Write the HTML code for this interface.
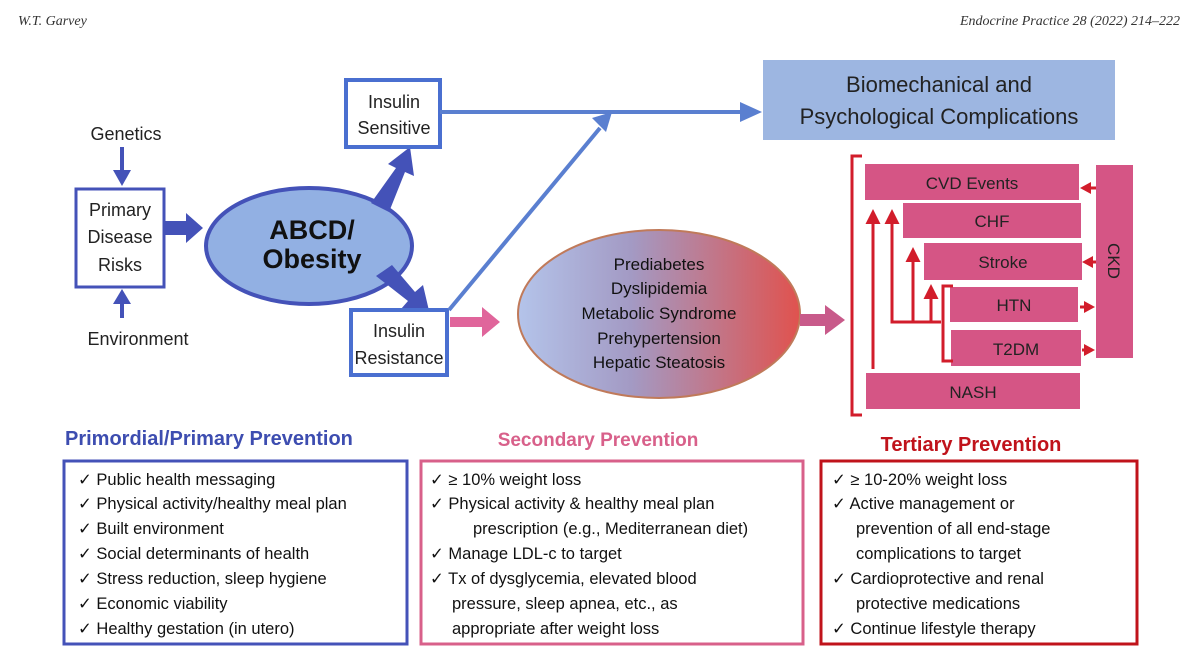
<!DOCTYPE html>
<html><head><meta charset="utf-8"><style>
html,body{margin:0;padding:0;background:#fff;}
svg{display:block;font-family:"Liberation Sans",sans-serif;}
</style></head><body>
<svg width="1200" height="656" viewBox="0 0 1200 656" xmlns="http://www.w3.org/2000/svg">
<defs>
<linearGradient id="g" x1="0" x2="1" y1="0" y2="0">
<stop offset="0" stop-color="#b4c4ea"/><stop offset="0.4" stop-color="#a39ac4"/><stop offset="1" stop-color="#e0524e"/>
</linearGradient>
<marker id="ar" markerWidth="5" markerHeight="5" refX="4" refY="2.5" orient="auto" markerUnits="strokeWidth"><path d="M0,0 L5,2.5 L0,5 z" fill="#d21d2b"/></marker>
</defs>
<text x="18" y="25" font-family="Liberation Serif" font-style="italic" font-size="14" fill="#333">W.T. Garvey</text>
<text x="1180" y="25" font-family="Liberation Serif" font-style="italic" font-size="14" fill="#333" text-anchor="end">Endocrine Practice 28 (2022) 214–222</text>

<text x="126" y="140" font-size="18" text-anchor="middle" fill="#222">Genetics</text>
<line x1="122" y1="147" x2="122" y2="172" stroke="#4452b8" stroke-width="4"/>
<path d="M113,170 L131,170 L122,186 z" fill="#4452b8"/>
<text x="138" y="345" font-size="18" text-anchor="middle" fill="#222">Environment</text>
<line x1="122" y1="318" x2="122" y2="302" stroke="#4452b8" stroke-width="4"/>
<path d="M113,304 L131,304 L122,289 z" fill="#4452b8"/>
<rect x="76" y="189" width="88" height="98" fill="#fff" stroke="#4452b8" stroke-width="3"/>
<text x="120" y="216" font-size="18" text-anchor="middle" fill="#222">Primary</text>
<text x="120" y="243" font-size="18" text-anchor="middle" fill="#222">Disease</text>
<text x="120" y="271" font-size="18" text-anchor="middle" fill="#222">Risks</text>
<path d="M165,221 L186,221 L186,213 L203,228 L186,243 L186,235 L165,235 z" fill="#4452b8"/>
<ellipse cx="309" cy="246" rx="103" ry="58" fill="#92b0e3" stroke="#4452b8" stroke-width="4"/>
<text x="312" y="239" font-size="27" font-weight="bold" text-anchor="middle" fill="#111">ABCD/</text>
<text x="312" y="268" font-size="27" font-weight="bold" text-anchor="middle" fill="#111">Obesity</text>
<path d="M371,203 L389,212 L405,172 L414,176 L410,147 L388,164 L396,168 z" fill="#4452b8"/>
<path d="M376,276 L392,265 L415,292 L423,285 L430,315 L401,309 L408,301 z" fill="#4452b8"/>
<rect x="346" y="80" width="94" height="67" fill="#fff" stroke="#4a6fd0" stroke-width="4"/>
<text x="394" y="108" font-size="18" text-anchor="middle" fill="#222">Insulin</text>
<text x="394" y="134" font-size="18" text-anchor="middle" fill="#222">Sensitive</text>
<rect x="351" y="310" width="96" height="65" fill="#fff" stroke="#4a6fd0" stroke-width="4"/>
<text x="399" y="337" font-size="18" text-anchor="middle" fill="#222">Insulin</text>
<text x="399" y="364" font-size="18" text-anchor="middle" fill="#222">Resistance</text>
<line x1="440" y1="112" x2="745" y2="112" stroke="#5a7fd0" stroke-width="4"/>
<path d="M740,102 L762,112 L740,122 z" fill="#5a7fd0"/>
<line x1="449" y1="310" x2="600" y2="128" stroke="#5a7fd0" stroke-width="4"/>
<path d="M592,118 L612,112 L606,132 z" fill="#5a7fd0"/>
<rect x="763" y="60" width="352" height="80" fill="#9db6e1"/>
<text x="939" y="92" font-size="22" text-anchor="middle" fill="#222">Biomechanical and</text>
<text x="939" y="124" font-size="22" text-anchor="middle" fill="#222">Psychological Complications</text>
<path d="M450,317 L482,317 L482,307 L500,322 L482,337 L482,327 L450,327 z" fill="#e0659b"/>
<ellipse cx="659" cy="314" rx="141" ry="84" fill="url(#g)" stroke="#c07a5a" stroke-width="2"/>
<g font-size="17" text-anchor="middle" fill="#111">
<text x="659" y="270">Prediabetes</text>
<text x="659" y="294">Dyslipidemia</text>
<text x="659" y="319">Metabolic Syndrome</text>
<text x="659" y="344">Prehypertension</text>
<text x="659" y="368">Hepatic Steatosis</text>
</g>
<path d="M800,314 L825,314 L825,305 L845,320 L825,335 L825,326 L800,326 z" fill="#c85a8a"/>
<path d="M862,156 L852,156 L852,415 L862,415" fill="none" stroke="#d21d2b" stroke-width="3"/>
<g fill="#d55585">
<rect x="865" y="164" width="214" height="36"/>
<rect x="903" y="203" width="178" height="35"/>
<rect x="924" y="243" width="158" height="37"/>
<rect x="950" y="287" width="128" height="35"/>
<rect x="951" y="330" width="130" height="36"/>
<rect x="866" y="373" width="214" height="36"/>
<rect x="1096" y="165" width="37" height="193"/>
</g>
<g font-size="17" text-anchor="middle" fill="#222">
<text x="972" y="189">CVD Events</text>
<text x="992" y="227">CHF</text>
<text x="1003" y="268">Stroke</text>
<text x="1014" y="311">HTN</text>
<text x="1016" y="355">T2DM</text>
<text x="973" y="398">NASH</text>
<text x="1108" y="261" transform="rotate(90 1108 261)">CKD</text>
</g>
<g stroke="#d21d2b" stroke-width="3" fill="none">
<line x1="873" y1="369" x2="873" y2="212" marker-end="url(#ar)"/>
<polyline points="941,322 892,322 892,212" marker-end="url(#ar)"/>
<line x1="913" y1="322" x2="913" y2="250" marker-end="url(#ar)"/>
<line x1="931" y1="322" x2="931" y2="287" marker-end="url(#ar)"/>
<path d="M953,286 L943,286 L943,361 L953,361"/>
<line x1="1096" y1="188" x2="1088" y2="188"/>
<line x1="1096" y1="262" x2="1089" y2="262"/>
<line x1="1080" y1="307" x2="1086" y2="307"/>
<line x1="1082" y1="350" x2="1087" y2="350"/>
</g>
<g fill="#d21d2b">
<path d="M1080,188 L1091,182 L1091,194 z"/>
<path d="M1082,262 L1093,256 L1093,268 z"/>
<path d="M1095,307 L1084,301 L1084,313 z"/>
<path d="M1095,350 L1084,344 L1084,356 z"/>
</g>

<text x="65" y="445" font-size="20" font-weight="bold" fill="#3d4db0">Primordial/Primary Prevention</text>
<text x="598" y="446" font-size="19" font-weight="bold" fill="#d8608a" text-anchor="middle">Secondary Prevention</text>
<text x="971" y="451" font-size="20" font-weight="bold" fill="#c0131b" text-anchor="middle">Tertiary Prevention</text>
<rect x="64" y="461" width="343" height="183" fill="none" stroke="#4452b8" stroke-width="3"/>
<rect x="421" y="461" width="382" height="183" fill="none" stroke="#d8608a" stroke-width="3"/>
<rect x="821" y="461" width="316" height="183" fill="none" stroke="#c0131b" stroke-width="3"/>
<g font-size="16.5" fill="#111">
<text x="78" y="485">✓  Public health messaging</text>
<text x="78" y="509">✓  Physical activity/healthy meal plan</text>
<text x="78" y="534">✓  Built environment</text>
<text x="78" y="559">✓  Social determinants of health</text>
<text x="78" y="584">✓  Stress reduction, sleep hygiene</text>
<text x="78" y="609">✓  Economic viability</text>
<text x="78" y="634">✓  Healthy gestation (in utero)</text>

<text x="430" y="485">✓  ≥ 10% weight loss</text>
<text x="430" y="509">✓  Physical activity &amp; healthy meal plan</text>
<text x="473" y="534">prescription (e.g., Mediterranean diet)</text>
<text x="430" y="559">✓  Manage LDL-c to target</text>
<text x="430" y="584">✓  Tx of dysglycemia, elevated blood</text>
<text x="452" y="609">pressure, sleep apnea, etc., as</text>
<text x="452" y="634">appropriate after weight loss</text>

<text x="832" y="485">✓  ≥ 10-20% weight loss</text>
<text x="832" y="509">✓  Active management or</text>
<text x="856" y="534">prevention of all end-stage</text>
<text x="856" y="559">complications to target</text>
<text x="832" y="584">✓  Cardioprotective and renal</text>
<text x="856" y="609">protective medications</text>
<text x="832" y="634">✓  Continue lifestyle therapy</text>
</g>
</svg>
</body></html>
